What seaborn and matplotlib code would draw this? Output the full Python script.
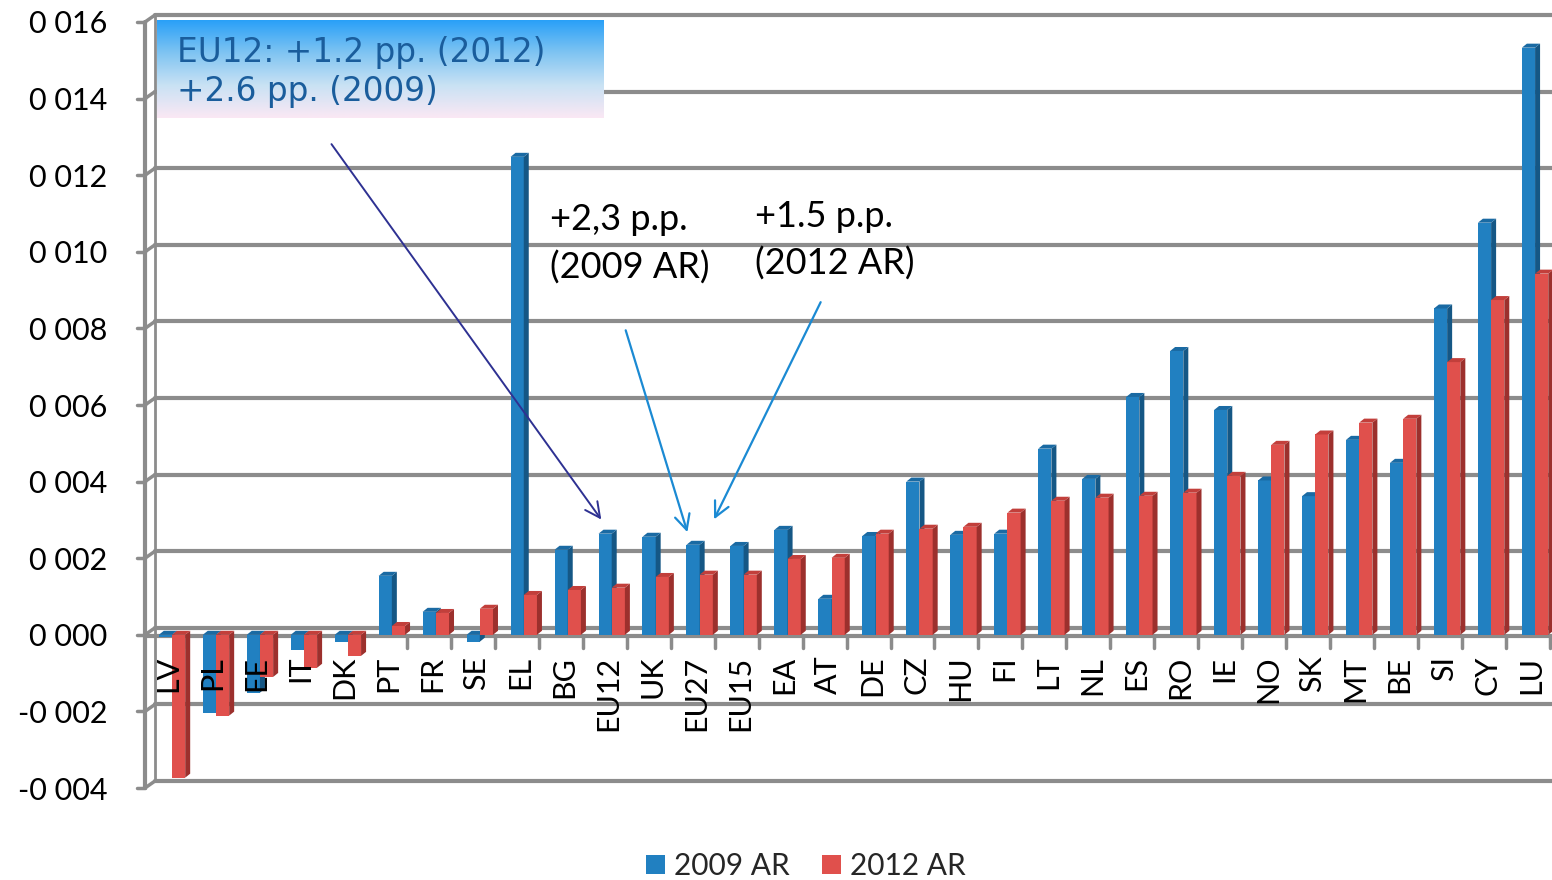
import numpy as np
import pandas as pd
import seaborn as sns
import matplotlib
matplotlib.use("Agg")
import matplotlib.pyplot as plt
from matplotlib.patches import Polygon, Patch
from matplotlib.lines import Line2D
from matplotlib.transforms import IdentityTransform

# ---- data -------------------------------------------------------------
countries = ["LV", "PL", "EE", "IT", "DK", "PT", "FR", "SE", "EL", "BG", "EU12",
             "UK", "EU27", "EU15", "EA", "AT", "DE", "CZ", "HU", "FI", "LT", "NL",
             "ES", "RO", "IE", "NO", "SK", "MT", "BE", "SI", "CY", "LU"]
ar2009 = [-0.00005, -0.00204, -0.00151, -0.00040, -0.00018, 0.00154, 0.00060,
          -0.00018, 0.01248, 0.00222, 0.00264, 0.00256, 0.00235, 0.00232,
          0.00274, 0.00094, 0.00258, 0.00400, 0.00261, 0.00264, 0.00486,
          0.00407, 0.00621, 0.00741, 0.00587, 0.00403, 0.00362, 0.00509,
          0.00449, 0.00852, 0.01076, 0.01533]
ar2012 = [-0.00373, -0.00211, -0.00110, -0.00086, -0.00055, 0.00023, 0.00057,
          0.00068, 0.00104, 0.00117, 0.00123, 0.00151, 0.00157, 0.00157,
          0.00198, 0.00201, 0.00264, 0.00277, 0.00282, 0.00319, 0.00350,
          0.00358, 0.00363, 0.00371, 0.00415, 0.00496, 0.00523, 0.00554,
          0.00564, 0.00712, 0.00874, 0.00943]
series_names = ["2009 AR", "2012 AR"]
ytick_values = [-0.004, -0.002, 0.000, 0.002, 0.004, 0.006, 0.008, 0.010,
                0.012, 0.014, 0.016]
ytick_labels = ["-0 004", "-0 002", "0 000", "0 002", "0 004", "0 006",
                "0 008", "0 010", "0 012", "0 014", "0 016"]

# ---- style ------------------------------------------------------------
BLUE, BLUE_SIDE, BLUE_TOP = "#2180c1", "#155785", "#1a6aa3"
RED, RED_SIDE, RED_TOP = "#e0504c", "#9c302d", "#c23f3b"
GRID = "#8c8c8c"

sns.set_theme(style="white")
plt.rcParams["font.family"] = ["Lato", "DejaVu Sans"]

W, H = 1552, 880
fig = plt.figure(figsize=(W / 100, H / 100), dpi=100)
ax = fig.add_axes([145 / W, 92 / H, 1 - 145 / W, (788 - 22) / H])

n = len(countries)
df = pd.DataFrame({
    "country": countries * 2,
    "value": ar2009 + ar2012,
    "series": [series_names[0]] * n + [series_names[1]] * n,
})
sns.barplot(data=df, x="country", y="value", hue="series",
            palette=[BLUE, RED], width=0.6, saturation=1, errorbar=None,
            legend=False, ax=ax)

ax.set_xlim(-0.614, 31.385)
ax.set_ylim(-0.004, 0.016)
for s in ax.spines.values():
    s.set_visible(False)
ax.set_xlabel("")
ax.set_ylabel("")
ax.set_xticks([])
ax.set_yticks(ytick_values)
ax.set_yticklabels(ytick_labels, fontsize=22, color="black")
ax.tick_params(axis="y", length=0, pad=27)
ax.grid(False)

fig.canvas.draw()
ident = IdentityTransform()
to_disp = ax.transData.transform

# ---- 3-D style walls, grid and floor ----------------------------------
x0 = ax.bbox.x0
depth_x, depth_y = 10, 7
for v in ytick_values:
    yd = to_disp((0, v))[1]
    ax.add_line(Line2D([x0 + depth_x, W], [yd + depth_y, yd + depth_y],
                       color=GRID, lw=3, transform=ident, clip_on=False, zorder=0.5))
    ax.add_line(Line2D([x0, x0 + depth_x], [yd, yd + depth_y],
                       color=GRID, lw=2.5, transform=ident, clip_on=False, zorder=0.5))
    ax.add_line(Line2D([x0 - 8, x0], [yd, yd],
                       color=GRID, lw=2.5, transform=ident, clip_on=False, zorder=0.5))
ytop = to_disp((0, ytick_values[-1]))[1]
ybot = to_disp((0, ytick_values[0]))[1]
ax.add_line(Line2D([x0, x0], [ybot, ytop], color=GRID, lw=3,
                   transform=ident, clip_on=False, zorder=0.5))
ax.add_line(Line2D([x0 + depth_x, x0 + depth_x], [ybot + depth_y, ytop + depth_y],
                   color=GRID, lw=2, transform=ident, clip_on=False, zorder=0.5))

# floor front edge and category ticks
y_zero = to_disp((0, 0))[1]
ax.add_line(Line2D([x0, W], [y_zero - 1, y_zero - 1], color=GRID, lw=3,
                   transform=ident, clip_on=False, zorder=0.6))
for i in range(n):
    xb = to_disp((i + 0.5, 0))[0] - 7
    ax.add_line(Line2D([xb, xb], [y_zero - 1, y_zero - 13], color=GRID, lw=2.5,
                       transform=ident, clip_on=False, zorder=0.6))

# ---- side and top faces of every bar ----------------------------------
bdx, bdy = 5, 4
for p in ax.patches:
    fc = matplotlib.colors.to_hex(p.get_facecolor())
    is_blue = fc.lower() == BLUE
    side_c, top_c = (BLUE_SIDE, BLUE_TOP) if is_blue else (RED_SIDE, RED_TOP)
    base_z = 3.0 if is_blue else 3.5
    p.set_zorder(base_z)
    p.set_edgecolor("none")
    x, w = p.get_x(), p.get_width()
    y1, y2 = sorted([p.get_y(), p.get_y() + p.get_height()])
    (xl, yb), (xr, yt) = to_disp([(x, y1), (x + w, y2)])
    side = Polygon([(xr, yb), (xr, yt), (xr + bdx, yt + bdy), (xr + bdx, yb + bdy)],
                   closed=True, facecolor=side_c, edgecolor="none",
                   transform=ident, clip_on=False, zorder=base_z + 0.1)
    top = Polygon([(xl, yt), (xr, yt), (xr + bdx, yt + bdy), (xl + bdx, yt + bdy)],
                  closed=True, facecolor=top_c, edgecolor="none",
                  transform=ident, clip_on=False, zorder=base_z + 0.1)
    ax.add_patch(side)
    ax.add_patch(top)

# ---- category labels just below the floor -----------------------------
for i, c in enumerate(countries):
    ax.annotate(c, xy=(i, 0), xytext=(-2.5, -15), textcoords="offset points",
                rotation=90, ha="center", va="top", fontsize=22,
                color="black", zorder=6, annotation_clip=False)

# ---- annotations -------------------------------------------------------
box_ax = fig.add_axes([157 / W, 1 - 118 / H, (604 - 157) / W, 98 / H])
grad = np.linspace(0, 1, 256)[:, None]
cmap = matplotlib.colors.LinearSegmentedColormap.from_list(
    "boxfill", ["#29a0f8", "#7fc4f2", "#c9e2f4", "#fbe8f4"])
box_ax.imshow(grad, aspect="auto", cmap=cmap, extent=[0, 1, 0, 1])
box_ax.set_axis_off()
box_ax.text(0.045, 0.47, "EU12: +1.2 pp. (2012)\n+2.6 pp. (2009)",
            transform=box_ax.transAxes, ha="left", va="center",
            fontsize=23.6, color="#1a5d9c", family="DejaVu Sans", linespacing=1.24)

ax.annotate("", xy=(9.8, 0.00295), xytext=(3.59, 0.01287),
            arrowprops=dict(arrowstyle="->,head_length=0.9,head_width=0.45",
                            color="#2e3192", lw=1.4), zorder=7)
ax.annotate("", xy=(11.74, 0.00261), xytext=(10.30, 0.00802),
            arrowprops=dict(arrowstyle="->,head_length=0.9,head_width=0.45",
                            color="#1b8ad3", lw=1.6), zorder=7)
ax.annotate("", xy=(12.30, 0.00295), xytext=(14.78, 0.00875),
            arrowprops=dict(arrowstyle="->,head_length=0.9,head_width=0.45",
                            color="#1b8ad3", lw=1.6), zorder=7)

ax.text(8.60, 0.01021, "+2,3 p.p.\n(2009 AR)", ha="left", va="center",
        fontsize=26, color="black", linespacing=1.5, zorder=7)
ax.text(13.26, 0.01030, "+1.5 p.p.\n(2012 AR)", ha="left", va="center",
        fontsize=26, color="black", linespacing=1.5, zorder=7)

# ---- legend ------------------------------------------------------------
handles = [Patch(facecolor=BLUE, edgecolor="none"),
           Patch(facecolor=RED, edgecolor="none")]
fig.legend(handles, series_names, loc="center", ncol=2,
           bbox_to_anchor=(806 / W, 1 - 866 / H), frameon=False,
           fontsize=21.5, handlelength=0.62, handleheight=0.62,
           handletextpad=0.3, columnspacing=1.1)

fig.savefig("out.png", dpi=100)
